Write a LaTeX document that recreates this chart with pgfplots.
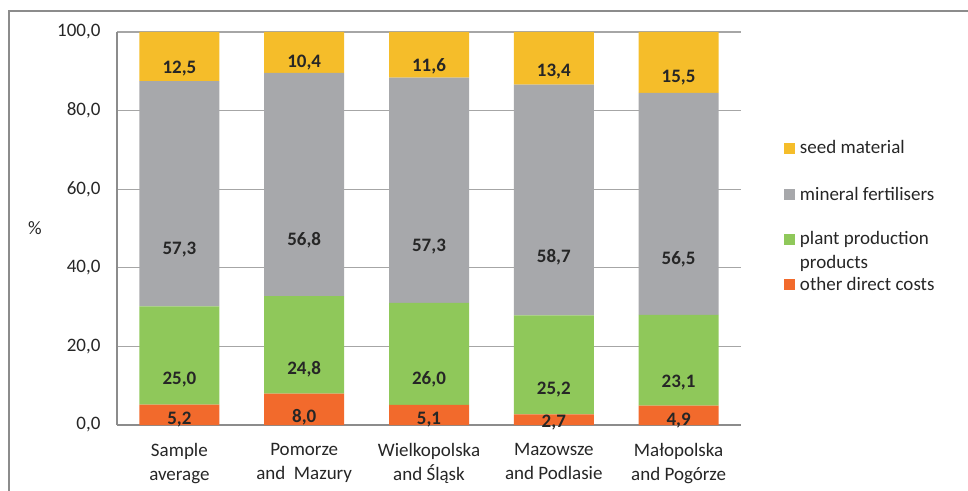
\documentclass[border=0pt]{standalone}
\usepackage{pgfplots}
\pgfplotsset{compat=1.18}
\usepackage{pgfplotstable}
\usepackage{fontspec}
\setmainfont{Carlito}
\definecolor{cSeed}{HTML}{F5BD2A}
\definecolor{cMin}{HTML}{A7A8AB}
\definecolor{cPlant}{HTML}{8FC85A}
\definecolor{cOther}{HTML}{F26A2C}
\definecolor{cGrid}{HTML}{A6A6A6}
\definecolor{cAxis}{HTML}{8C8C8C}
\definecolor{cText}{HTML}{262626}
\pgfplotstableread{
x other plant mineral seed
0 5.2 25.0 57.3 12.5
1 8.0 24.8 56.8 10.4
2 5.1 26.0 57.3 11.6
3 2.7 25.2 58.7 13.4
4 4.9 23.1 56.5 15.5
}\datatable
\begin{document}
\begin{tikzpicture}[x=1pt,y=1pt]
\useasboundingbox (0,0) rectangle (968,490);
\draw[cAxis, line width=1.5pt] (9,-5) -- (9,479) -- (975,479);
\begin{axis}[
  at={(117pt,65pt)}, anchor=south west,
  scale only axis, width=624pt, height=393pt,
  ybar stacked, bar width=80pt,
  xmin=-0.5, xmax=4.5, ymin=0, ymax=100,
  xtick={0,1,2,3,4},
  xticklabels={{Sample\\average},{Pomorze\\and\ \ Mazury},{Wielkopolska\\and Śląsk},{Mazowsze\\and Podlasie},{Małopolska\\and Pogórze}},
  ytick={0,20,40,60,80,100},
  /pgf/number format/assume math mode=true,
  yticklabel style={/pgf/number format/.cd, fixed, fixed zerofill, precision=1, use comma, /tikz/.cd, xshift=-13pt},
  xticklabel style={align=center, yshift=-15pt},
  ticklabel style={font=\fontsize{19}{24}\selectfont, text=cText},
  major tick length=0pt,
  axis x line*=bottom, axis y line*=left,
  axis line style={cAxis, line width=2pt},
  ymajorgrids, grid style={cGrid, line width=1.3pt},
  ylabel={\%},
  every axis y label/.style={at={(axis description cs:0,0.5)}, anchor=center, xshift=-82pt, font=\fontsize{19}{24}\selectfont, text=cText},
  nodes near coords,
  every node near coord/.append style={anchor=center, font=\bfseries\fontsize{19}{22}\selectfont, text=cText,
     /pgf/number format/.cd, fixed, fixed zerofill, precision=1, use comma, /tikz/.cd},
  reverse legend,
  legend cell align=left,
  legend style={at={(1.0689,0.7252)}, anchor=north west, draw=none, fill=none, inner sep=0pt, outer sep=0pt,
     font=\fontsize{19}{24}\selectfont, text=cText, column sep=5pt, row sep=0pt,
     nodes={inner sep=0pt, outer sep=0pt}, cells={anchor=base west}},
  legend image code/.code={\fill[#1] (0pt,0pt) rectangle (11pt,11pt);},
]
\addplot[fill=cOther, draw=none, visualization depends on={\thisrow{other} \as \val},
  every node near coord/.append style={yshift=-0.9825*\val pt}] table[x=x, y=other] {\datatable};
\addlegendentry{\rule{0pt}{44pt}other direct costs}
\addplot[fill=cPlant, draw=none, visualization depends on={\thisrow{plant} \as \val},
  every node near coord/.append style={yshift=-0.9825*\val pt}] table[x=x, y=plant] {\datatable};
\addlegendentry{\vtop{\baselineskip=24pt\hbox{\rule{0pt}{43pt}plant production}\hbox{products\rule[-5pt]{0pt}{5pt}}}}
\addplot[fill=cMin, draw=none, visualization depends on={\thisrow{mineral} \as \val},
  every node near coord/.append style={yshift=-0.9825*\val pt}] table[x=x, y=mineral] {\datatable};
\addlegendentry{\rule[-5pt]{0pt}{50pt}mineral fertilisers}
\addplot[fill=cSeed, draw=none, visualization depends on={\thisrow{seed} \as \val},
  every node near coord/.append style={yshift=-0.9825*\val pt}] table[x=x, y=seed] {\datatable};
\addlegendentry{\rule[-5pt]{0pt}{19pt}seed material}
\end{axis}
\end{tikzpicture}
\end{document}
